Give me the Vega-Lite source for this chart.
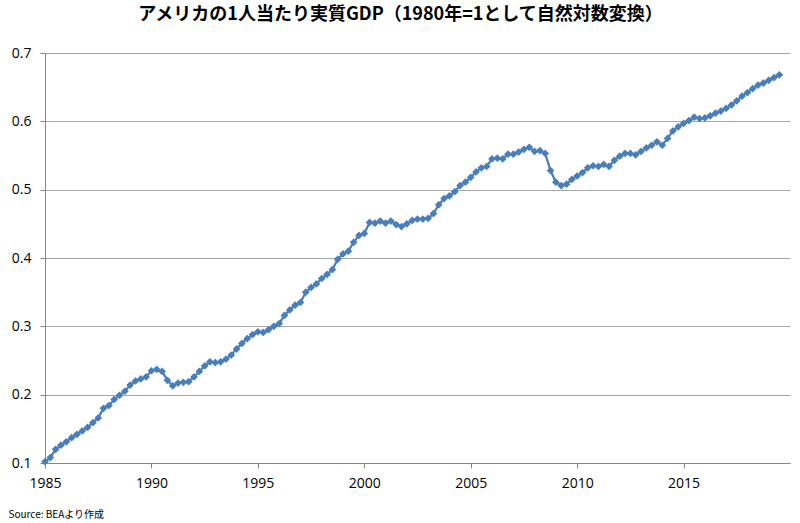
{
  "$schema": "https://vega.github.io/schema/vega-lite/v6.json",
  "autosize": {"type": "none"},
  "width": 745,
  "height": 410,
  "padding": {"left": 45, "top": 53, "right": 10, "bottom": 60},
  "background": "white",
  "config": {"view": {"stroke": null}},
  "title": {
    "text": "アメリカの1人当たり実質GDP（1980年=1として自然対数変換）",
    "font": "Noto Sans CJK JP",
    "fontSize": 18,
    "fontWeight": "bold",
    "color": "#000000",
    "anchor": "middle",
    "dx": -17,
    "offset": 22
  },
  "data": {"values": [
    {"t": 1985.0, "v": 0.102}, {"t": 1985.25, "v": 0.108}, {"t": 1985.5, "v": 0.120}, {"t": 1985.75, "v": 0.126},
    {"t": 1986.0, "v": 0.131}, {"t": 1986.25, "v": 0.137}, {"t": 1986.5, "v": 0.142}, {"t": 1986.75, "v": 0.147},
    {"t": 1987.0, "v": 0.152}, {"t": 1987.25, "v": 0.159}, {"t": 1987.5, "v": 0.166}, {"t": 1987.75, "v": 0.180},
    {"t": 1988.0, "v": 0.184}, {"t": 1988.25, "v": 0.193}, {"t": 1988.5, "v": 0.199}, {"t": 1988.75, "v": 0.205},
    {"t": 1989.0, "v": 0.214}, {"t": 1989.25, "v": 0.220}, {"t": 1989.5, "v": 0.223}, {"t": 1989.75, "v": 0.226},
    {"t": 1990.0, "v": 0.235}, {"t": 1990.25, "v": 0.237}, {"t": 1990.5, "v": 0.234}, {"t": 1990.75, "v": 0.221},
    {"t": 1991.0, "v": 0.213}, {"t": 1991.25, "v": 0.217}, {"t": 1991.5, "v": 0.218}, {"t": 1991.75, "v": 0.219},
    {"t": 1992.0, "v": 0.226}, {"t": 1992.25, "v": 0.234}, {"t": 1992.5, "v": 0.242}, {"t": 1992.75, "v": 0.248},
    {"t": 1993.0, "v": 0.247}, {"t": 1993.25, "v": 0.248}, {"t": 1993.5, "v": 0.252}, {"t": 1993.75, "v": 0.258},
    {"t": 1994.0, "v": 0.267}, {"t": 1994.25, "v": 0.275}, {"t": 1994.5, "v": 0.282}, {"t": 1994.75, "v": 0.288},
    {"t": 1995.0, "v": 0.292}, {"t": 1995.25, "v": 0.291}, {"t": 1995.5, "v": 0.295}, {"t": 1995.75, "v": 0.300},
    {"t": 1996.0, "v": 0.304}, {"t": 1996.25, "v": 0.316}, {"t": 1996.5, "v": 0.324}, {"t": 1996.75, "v": 0.331},
    {"t": 1997.0, "v": 0.335}, {"t": 1997.25, "v": 0.350}, {"t": 1997.5, "v": 0.357}, {"t": 1997.75, "v": 0.362},
    {"t": 1998.0, "v": 0.370}, {"t": 1998.25, "v": 0.376}, {"t": 1998.5, "v": 0.383}, {"t": 1998.75, "v": 0.398},
    {"t": 1999.0, "v": 0.406}, {"t": 1999.25, "v": 0.410}, {"t": 1999.5, "v": 0.423}, {"t": 1999.75, "v": 0.433},
    {"t": 2000.0, "v": 0.436}, {"t": 2000.25, "v": 0.452}, {"t": 2000.5, "v": 0.451}, {"t": 2000.75, "v": 0.454},
    {"t": 2001.0, "v": 0.451}, {"t": 2001.25, "v": 0.454}, {"t": 2001.5, "v": 0.449}, {"t": 2001.75, "v": 0.446},
    {"t": 2002.0, "v": 0.450}, {"t": 2002.25, "v": 0.455}, {"t": 2002.5, "v": 0.457}, {"t": 2002.75, "v": 0.457},
    {"t": 2003.0, "v": 0.458}, {"t": 2003.25, "v": 0.465}, {"t": 2003.5, "v": 0.478}, {"t": 2003.75, "v": 0.487},
    {"t": 2004.0, "v": 0.491}, {"t": 2004.25, "v": 0.497}, {"t": 2004.5, "v": 0.506}, {"t": 2004.75, "v": 0.511},
    {"t": 2005.0, "v": 0.518}, {"t": 2005.25, "v": 0.526}, {"t": 2005.5, "v": 0.532}, {"t": 2005.75, "v": 0.534},
    {"t": 2006.0, "v": 0.545}, {"t": 2006.25, "v": 0.546}, {"t": 2006.5, "v": 0.545}, {"t": 2006.75, "v": 0.552},
    {"t": 2007.0, "v": 0.552}, {"t": 2007.25, "v": 0.555}, {"t": 2007.5, "v": 0.559}, {"t": 2007.75, "v": 0.562},
    {"t": 2008.0, "v": 0.556}, {"t": 2008.25, "v": 0.557}, {"t": 2008.5, "v": 0.553}, {"t": 2008.75, "v": 0.528},
    {"t": 2009.0, "v": 0.511}, {"t": 2009.25, "v": 0.506}, {"t": 2009.5, "v": 0.508}, {"t": 2009.75, "v": 0.515},
    {"t": 2010.0, "v": 0.520}, {"t": 2010.25, "v": 0.525}, {"t": 2010.5, "v": 0.532}, {"t": 2010.75, "v": 0.535},
    {"t": 2011.0, "v": 0.534}, {"t": 2011.25, "v": 0.537}, {"t": 2011.5, "v": 0.534}, {"t": 2011.75, "v": 0.543},
    {"t": 2012.0, "v": 0.549}, {"t": 2012.25, "v": 0.553}, {"t": 2012.5, "v": 0.553}, {"t": 2012.75, "v": 0.551},
    {"t": 2013.0, "v": 0.556}, {"t": 2013.25, "v": 0.561}, {"t": 2013.5, "v": 0.565}, {"t": 2013.75, "v": 0.570},
    {"t": 2014.0, "v": 0.565}, {"t": 2014.25, "v": 0.575}, {"t": 2014.5, "v": 0.586}, {"t": 2014.75, "v": 0.592},
    {"t": 2015.0, "v": 0.597}, {"t": 2015.25, "v": 0.601}, {"t": 2015.5, "v": 0.606}, {"t": 2015.75, "v": 0.604},
    {"t": 2016.0, "v": 0.605}, {"t": 2016.25, "v": 0.608}, {"t": 2016.5, "v": 0.612}, {"t": 2016.75, "v": 0.615},
    {"t": 2017.0, "v": 0.619}, {"t": 2017.25, "v": 0.624}, {"t": 2017.5, "v": 0.630}, {"t": 2017.75, "v": 0.637},
    {"t": 2018.0, "v": 0.642}, {"t": 2018.25, "v": 0.648}, {"t": 2018.5, "v": 0.653}, {"t": 2018.75, "v": 0.656},
    {"t": 2019.0, "v": 0.660}, {"t": 2019.25, "v": 0.664}, {"t": 2019.5, "v": 0.668}
  ]},
  "mark": {
    "type": "line",
    "color": "#4A7EBB",
    "strokeWidth": 2.25,
    "point": {"filled": true, "shape": "diamond", "size": 60, "color": "#4A7EBB"}
  },
  "encoding": {
    "x": {
      "field": "t",
      "type": "quantitative",
      "scale": {"domain": [1985, 2020], "nice": false, "zero": false},
      "axis": {
        "values": [1985, 1990, 1995, 2000, 2005, 2010, 2015],
        "format": "d",
        "grid": false,
        "labelFlush": false,
        "domainColor": "#868686",
        "tickColor": "#868686",
        "tickSize": 5,
        "labelFont": "Open Sans",
        "labelFontSize": 14,
        "labelColor": "#000000",
        "labelPadding": 8,
        "title": "Source: BEAより作成",
        "titleFont": "Noto Sans CJK JP",
        "titleFontSize": 10,
        "titleFontWeight": "normal",
        "titleColor": "#000000",
        "titleAnchor": "start",
        "titleAlign": "left",
        "titleX": -37,
        "titleY": 46
      }
    },
    "y": {
      "field": "v",
      "type": "quantitative",
      "scale": {"domain": [0.1, 0.7], "nice": false, "zero": false},
      "axis": {
        "values": [0.1, 0.2, 0.3, 0.4, 0.5, 0.6, 0.7],
        "format": ".1f",
        "grid": true,
        "gridColor": "#A6A6A6",
        "gridWidth": 1,
        "domainColor": "#868686",
        "tickColor": "#868686",
        "tickSize": 5,
        "labelFont": "Open Sans",
        "labelFontSize": 14,
        "labelColor": "#000000",
        "labelPadding": 9,
        "title": null
      }
    }
  }
}
